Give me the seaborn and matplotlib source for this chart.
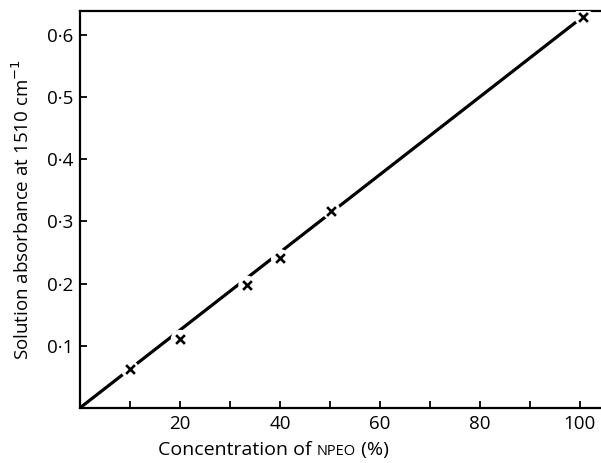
import numpy as np
import pandas as pd
import matplotlib
matplotlib.use("Agg")
import matplotlib.pyplot as plt
import seaborn as sns

conc = [10, 20, 33.5, 40, 50.3, 100.7]
absorb = [0.062, 0.111, 0.198, 0.241, 0.317, 0.629]

# fitted calibration line
line_conc = [0, 99.5]
line_abs = [0, 0.622]

x_ticks = [20, 40, 60, 80, 100]
x_minor = [10, 30, 50, 70, 90]
y_ticks = [0.1, 0.2, 0.3, 0.4, 0.5, 0.6]
y_labels = ["0·1", "0·2", "0·3", "0·4", "0·5", "0·6"]

sns.set_style("white")
plt.rcParams['font.family'] = ['Open Sans', 'DejaVu Sans']
plt.rcParams.update({"text.color": "black", "axes.labelcolor": "black",
                     "xtick.color": "black", "ytick.color": "black"})

pts = pd.DataFrame({"conc": conc, "absorb": absorb})
fit = pd.DataFrame({"conc": line_conc, "absorb": line_abs})

fig = plt.figure(figsize=(6.01, 4.63), dpi=100)
ax = fig.add_axes([0.133, 0.119, 0.865, 0.857])

sns.lineplot(data=fit, x="conc", y="absorb", ax=ax, color="black", lw=2.3, zorder=2)
# white halo so the line breaks around each cross
sns.scatterplot(data=pts, x="conc", y="absorb", ax=ax, marker="o", s=170,
                color="white", edgecolor="none", zorder=3)
sns.scatterplot(data=pts, x="conc", y="absorb", ax=ax, marker="x", s=40,
                color="black", linewidth=1.9, zorder=4)

ax.set_xlim(0, 104)
ax.set_ylim(0, 0.638)
ax.set_xticks(x_ticks)
ax.set_xticklabels([str(t) for t in x_ticks], fontsize=13.5)
ax.set_xticks(x_minor, minor=True)
ax.set_yticks(y_ticks)
ax.set_yticklabels(y_labels, fontsize=13.5)
ax.tick_params(axis="x", which="both", bottom=True, direction="in",
               length=5, width=1.3, pad=5)
ax.tick_params(axis="y", left=True, direction="in", length=5, width=1.3, pad=5)

for side in ["left", "bottom", "top"]:
    ax.spines[side].set_linewidth(1.6)
    ax.spines[side].set_color("black")
ax.spines["right"].set_visible(False)

ax.set_xlabel("")
ax.set_ylabel("Solution absorbance at 1510 cm$^{-1}$", fontsize=13.5, labelpad=10)

# x label with small-caps NPEO
t1 = fig.text(0.263, 0.018, "Concentration of ", fontsize=14, va="baseline")
t2 = ax.annotate("NPEO", xy=(1, 0), xycoords=t1, fontsize=10.5, va="bottom")
ax.annotate(" (%)", xy=(1, 0), xycoords=t2, fontsize=14, va="bottom")

fig.savefig("out.png", dpi=100)
